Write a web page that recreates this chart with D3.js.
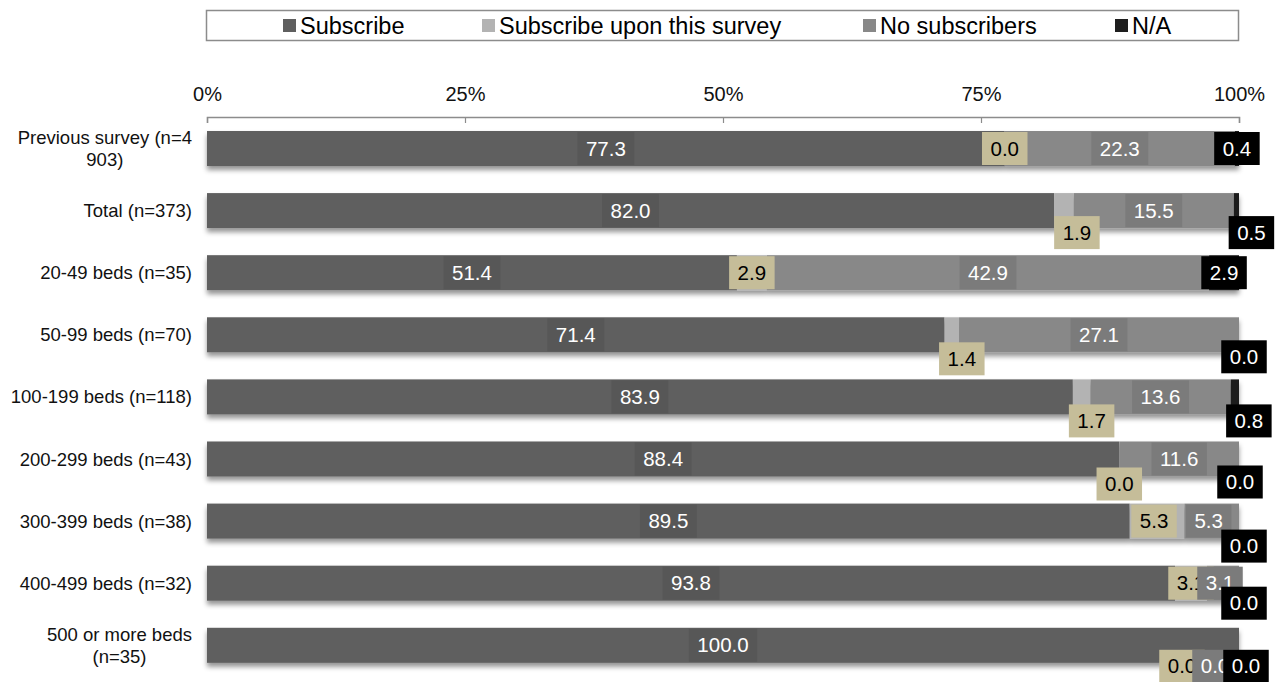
<!DOCTYPE html>
<html>
<head>
<meta charset="utf-8">
<script src="https://cdn.jsdelivr.net/npm/d3@7/dist/d3.min.js"></script>
<style>
  html, body { margin: 0; padding: 0; background: #fff; }
  svg { display: block; font-family: "Liberation Sans", Arial, sans-serif; }
</style>
</head>
<body>
<svg id="chart" width="1282" height="682"></svg>
<script>
// Survey groups (a "\n" marks where the label wraps)
const categories = [
  "Previous survey (n=4\n903)",
  "Total (n=373)",
  "20-49 beds (n=35)",
  "50-99 beds (n=70)",
  "100-199 beds (n=118)",
  "200-299 beds (n=43)",
  "300-399 beds (n=38)",
  "400-499 beds (n=32)",
  "500 or more beds\n(n=35)"
];

const seriesNames = ["Subscribe", "Subscribe upon this survey", "No subscribers", "N/A"];

// Percentages per group, one array per series
const subscribe      = [77.3, 82.0, 51.4, 71.4, 83.9, 88.4, 89.5, 93.8, 100.0];
const subscribeUpon  = [0.0, 1.9, 2.9, 1.4, 1.7, 0.0, 5.3, 3.1, 0.0];
const noSubscribers  = [22.3, 15.5, 42.9, 27.1, 13.6, 11.6, 5.3, 3.1, 0.0];
const notAnswered    = [0.4, 0.5, 2.9, 0.0, 0.8, 0.0, 0.0, 0.0, 0.0];

const axisTicks = [0, 25, 50, 75, 100];

// Hand-placed label nudges [dx, dy] in px, per group and series
const labelNudge = [
  [[0, 0], [0, 0],   [0, 0],   [0, 0]],
  [[0, 0], [13, 22], [0, 0],   [15, 22]],
  [[0, 0], [0, 0],   [0, 0],   [0, 0]],
  [[0, 0], [10, 24], [0, 0],   [5, 22]],
  [[0, 0], [10, 24], [0, 0],   [14, 24]],
  [[0, 0], [0, 25],  [0, 0],   [1, 23]],
  [[0, 0], [-3, 0],  [-3, 0],  [5, 25]],
  [[0, 0], [0, 0],   [-3, 0],  [5, 20]],
  [[0, 0], [-57, 21],[-24, 21],[7, 21]]
];

const barColors   = ["#5f5f5f", "#b3b3b3", "#888888", "#1e1e1e"];
const boxColors   = ["#575757", "#c5bd99", "#7b7b7b", "#000000"];
const textColors  = ["#ffffff", "#000000", "#ffffff", "#ffffff"];

const seriesValues = [subscribe, subscribeUpon, noSubscribers, notAnswered];

const svg = d3.select("#chart");

const x = d3.scaleLinear().domain([0, 100]).range([207, 1239]);
const y = d3.scaleBand()
  .domain(d3.range(categories.length))
  .range([117.45, 676.35])
  .paddingInner(0.436)
  .paddingOuter(0.218);

// Build 100% stacked rows
const rows = categories.map((c, i) => {
  const vals = seriesValues.map(s => s[i]);
  const total = d3.sum(vals);
  let acc = 0;
  const segs = vals.map((v, k) => {
    const p = v / total * 100;
    const seg = { k, value: v, x0: acc, x1: acc + p };
    acc += p;
    return seg;
  });
  return { i, segs };
});

// Drop shadow under bars
const defs = svg.append("defs");
const f = defs.append("filter").attr("id", "barShadow")
  .attr("x", "-5%").attr("y", "-30%").attr("width", "110%").attr("height", "180%");
f.append("feDropShadow").attr("dx", 0).attr("dy", 4).attr("stdDeviation", 2.8)
  .attr("flood-color", "#000").attr("flood-opacity", 0.42);

// Legend
const legend = svg.append("g");
legend.append("rect").attr("x", 206.5).attr("y", 10.5).attr("width", 1032).attr("height", 30)
  .attr("fill", "#fff").attr("stroke", "#8c8c8c").attr("stroke-width", 1.5);
const legendTextX = [300, 499, 880, 1132];
seriesNames.forEach((name, k) => {
  const g = legend.append("g").attr("transform", `translate(${legendTextX[k]},0)`);
  g.append("rect").attr("x", -17).attr("y", 19).attr("width", 13).attr("height", 13).attr("fill", barColors[k]);
  g.append("text").attr("x", 0).attr("y", 33.5).attr("font-size", 23.5).attr("fill", "#000").text(name);
});

// Top axis
const axisY = 117;
const axis = d3.axisBottom(x).tickValues(axisTicks).tickSize(6).tickFormat(d => d + "%");
const ax = svg.append("g").attr("transform", `translate(0,${axisY})`).call(axis);
ax.select(".domain").attr("stroke", "#8c8c8c").attr("stroke-width", 1.5);
ax.selectAll(".tick line").attr("stroke", "#8c8c8c").attr("stroke-width", 1.2);
ax.selectAll(".tick text").attr("y", -16).attr("dy", 0)
  .attr("font-size", 20).attr("font-family", "Liberation Sans, Arial, sans-serif").attr("fill", "#111");

// Bars
const barG = svg.append("g");
rows.forEach(r => {
  const g = barG.append("g").attr("filter", "url(#barShadow)");
  g.selectAll("rect").data(r.segs).join("rect")
    .attr("x", d => x(d.x0))
    .attr("y", y(r.i))
    .attr("width", d => Math.max(0, x(d.x1) - x(d.x0)))
    .attr("height", y.bandwidth())
    .attr("fill", d => barColors[d.k]);
});

// Category labels
const catG = svg.append("g");
categories.forEach((c, i) => {
  const lines = c.split("\n");
  const lh = 22;
  const cy = y(i) + y.bandwidth() / 2;
  const t = catG.append("text").attr("font-size", 18.5).attr("fill", "#111");
  const spans = lines.map((ln, j) => t.append("tspan")
    .attr("y", cy + (j - (lines.length - 1) / 2) * lh + 6.5).text(ln));
  const widths = spans.map(s => s.node().getComputedTextLength());
  const w = d3.max(widths);
  spans.forEach(s => s.attr("x", 192 - w / 2).attr("text-anchor", "middle"));
});

// Value labels (drawn series by series so later ones sit on top)
const fmt = d3.format(".1f");
const labG = svg.append("g");
for (let k = 0; k < seriesNames.length; k++) {
  rows.forEach(r => {
    const s = r.segs[k];
    const [dx, dy] = labelNudge[r.i][k];
    const cx = x((s.x0 + s.x1) / 2) + dx;
    const cy = y(r.i) + y.bandwidth() / 2 + dy;
    const g = labG.append("g");
    const box = g.append("rect").attr("fill", boxColors[k]);
    const t = g.append("text").attr("x", cx).attr("y", cy + 7).attr("text-anchor", "middle")
      .attr("font-size", 20.5).attr("fill", textColors[k]).text(fmt(s.value));
    const tw = t.node().getComputedTextLength();
    const bw = tw + 17, bh = 33;
    box.attr("x", cx - bw / 2).attr("y", cy - bh / 2).attr("width", bw).attr("height", bh);
  });
}
</script>
</body>
</html>
